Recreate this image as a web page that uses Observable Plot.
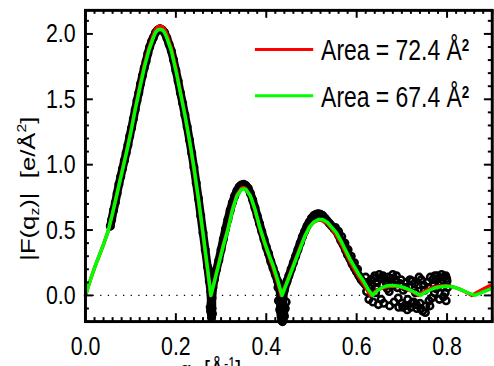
<!DOCTYPE html>
<html><head><meta charset="utf-8">
<script src="https://cdn.jsdelivr.net/npm/d3@7"></script>
<script src="https://cdn.jsdelivr.net/npm/@observablehq/plot@0.6"></script>
<style>
html,body{margin:0;padding:0;background:#fff;overflow:hidden;width:494px;height:366px;}
#chart{position:relative;width:494px;height:366px;overflow:hidden;}
</style></head><body><div id="chart"></div>
<script>
// ---- data ----
const xTicks = [0, 0.2, 0.4, 0.6, 0.8];
const yTicks = [0, 0.5, 1.0, 1.5, 2.0];
const legendLabels = ["Area = 72.4 Å", "Area = 67.4 Å"];
const legendColors = ["#ff0000", "#00ff00"];

// model |F(qz)| for Area = 67.4 (green)
const greenCurve = [
[0,0],[0.01,0.11],[0.02,0.21],[0.03,0.30],[0.04,0.39],[0.05,0.49],[0.06,0.63],[0.07,0.78],[0.08,0.93],[0.09,1.08],
[0.10,1.24],[0.11,1.42],[0.12,1.58],[0.13,1.74],[0.14,1.87],[0.15,1.97],[0.155,2.01],[0.16,2.03],[0.165,2.035],[0.17,2.03],
[0.175,2.01],[0.18,1.97],[0.19,1.87],[0.20,1.72],[0.21,1.55],[0.22,1.38],[0.23,1.19],[0.24,0.98],[0.25,0.74],[0.26,0.48],
[0.27,0.21],[0.2776,0],
[0.285,0.10],[0.295,0.24],[0.305,0.38],[0.315,0.50],[0.325,0.65],[0.335,0.76],[0.345,0.81],[0.35,0.815],[0.355,0.81],
[0.365,0.76],[0.375,0.66],[0.385,0.53],[0.395,0.42],[0.405,0.32],[0.415,0.23],[0.425,0.12],[0.435,0],
[0.445,0.09],[0.455,0.18],[0.465,0.27],[0.475,0.36],[0.485,0.45],[0.495,0.52],[0.505,0.56],[0.515,0.58],[0.52,0.58],
[0.525,0.58],[0.535,0.56],[0.545,0.52],[0.555,0.48],[0.565,0.42],[0.575,0.35],[0.585,0.28],[0.595,0.22],[0.605,0.16],
[0.615,0.11],[0.625,0.05],[0.635,0],
[0.645,0.035],[0.655,0.058],[0.665,0.072],[0.675,0.077],[0.685,0.075],[0.695,0.07],[0.705,0.06],[0.715,0.046],[0.725,0.03],
[0.735,0.012],[0.741,0],
[0.75,0.02],[0.76,0.038],[0.77,0.053],[0.78,0.063],[0.79,0.069],[0.80,0.07],[0.81,0.067],[0.82,0.058],[0.83,0.045],
[0.84,0.03],[0.85,0.015],[0.861,0],[0.87,0.013],[0.88,0.027],[0.89,0.041],[0.90,0.055]
];

// model |F(qz)| for Area = 72.4 (red)
const redCurve = [
[0,0],[0.01,0.11],[0.02,0.21],[0.03,0.30],[0.04,0.39],[0.05,0.49],[0.06,0.63],[0.07,0.78],[0.08,0.94],[0.09,1.09],
[0.10,1.25],[0.11,1.43],[0.12,1.60],[0.13,1.76],[0.14,1.89],[0.15,1.99],[0.155,2.035],[0.16,2.055],[0.165,2.06],[0.17,2.055],
[0.175,2.035],[0.18,1.995],[0.19,1.89],[0.20,1.74],[0.21,1.56],[0.22,1.38],[0.23,1.18],[0.24,0.96],[0.25,0.72],[0.26,0.46],
[0.27,0.19],[0.2770,0],
[0.285,0.11],[0.295,0.25],[0.305,0.39],[0.315,0.51],[0.325,0.66],[0.335,0.77],[0.345,0.82],[0.35,0.825],[0.355,0.815],
[0.365,0.76],[0.375,0.65],[0.385,0.52],[0.395,0.41],[0.405,0.31],[0.415,0.21],[0.425,0.10],[0.433,0],
[0.445,0.10],[0.455,0.19],[0.465,0.28],[0.475,0.37],[0.485,0.45],[0.495,0.52],[0.505,0.56],[0.515,0.575],[0.52,0.575],
[0.525,0.57],[0.535,0.55],[0.545,0.51],[0.555,0.46],[0.565,0.40],[0.575,0.33],[0.585,0.26],[0.595,0.20],[0.605,0.14],
[0.615,0.09],[0.625,0.03],[0.630,0],
[0.64,0.028],[0.65,0.048],[0.66,0.060],[0.67,0.068],[0.68,0.071],[0.69,0.069],[0.70,0.062],[0.71,0.05],[0.72,0.034],
[0.73,0.015],[0.736,0],
[0.745,0.02],[0.755,0.04],[0.765,0.056],[0.775,0.067],[0.785,0.073],[0.795,0.075],[0.805,0.072],[0.815,0.064],[0.825,0.052],
[0.835,0.037],[0.845,0.02],[0.855,0],[0.865,0.02],[0.875,0.04],[0.885,0.058],[0.895,0.075]
];

// measured data, continuous dense band (in measurement order)
const dataBand = [
[0.055,0.53],[0.058,0.58],[0.062,0.65],[0.066,0.71],[0.070,0.78],[0.074,0.85],[0.078,0.91],[0.082,0.97],[0.086,1.03],
[0.090,1.09],[0.094,1.15],[0.098,1.22],[0.102,1.28],[0.106,1.35],[0.110,1.42],[0.114,1.49],[0.118,1.55],[0.122,1.62],
[0.126,1.68],[0.130,1.74],[0.134,1.79],[0.138,1.85],[0.142,1.90],[0.146,1.94],[0.150,1.97],[0.155,2.01],[0.160,2.03],
[0.165,2.04],[0.170,2.03],[0.175,2.01],[0.180,1.97],[0.185,1.92],[0.190,1.87],[0.195,1.80],[0.200,1.72],[0.205,1.64],
[0.210,1.55],[0.215,1.47],[0.220,1.38],[0.225,1.29],[0.230,1.19],[0.235,1.09],[0.240,0.98],[0.245,0.86],[0.250,0.74],
[0.255,0.61],[0.260,0.48],[0.265,0.35],[0.270,0.22],[0.274,0.11],[0.277,0.03],[0.278,-0.06],[0.277,-0.12],[0.279,-0.17],
[0.280,-0.10],[0.280,-0.02],[0.282,0.06],[0.285,0.12],[0.290,0.20],[0.295,0.27],[0.300,0.35],[0.305,0.43],[0.310,0.51],
[0.315,0.58],[0.320,0.65],[0.325,0.71],[0.330,0.76],[0.335,0.80],[0.340,0.83],[0.345,0.845],[0.350,0.85],[0.355,0.84],
[0.360,0.82],[0.365,0.78],[0.370,0.73],[0.375,0.67],[0.380,0.61],[0.385,0.55],[0.390,0.49],[0.395,0.43],[0.400,0.37],
[0.405,0.32],[0.410,0.26],[0.415,0.21],[0.420,0.16],[0.425,0.11],[0.428,0.07],[0.431,0.02],[0.432,-0.05],[0.430,-0.11],
[0.433,-0.16],[0.436,-0.20],[0.440,-0.16],[0.438,-0.09],[0.437,-0.02],[0.440,0.04],[0.445,0.10],[0.450,0.15],[0.455,0.20],
[0.460,0.25],[0.465,0.30],[0.470,0.35],[0.475,0.40],[0.480,0.45],[0.485,0.49],[0.490,0.53],[0.495,0.56],[0.500,0.59],
[0.505,0.61],[0.510,0.62],[0.515,0.625],[0.520,0.62],[0.525,0.61],[0.530,0.59],[0.535,0.57],[0.540,0.55],[0.545,0.53],
[0.550,0.51],[0.555,0.49],[0.560,0.46],[0.565,0.42],[0.570,0.39],[0.575,0.35],[0.580,0.31],[0.585,0.28],[0.590,0.24],
[0.595,0.21],[0.600,0.18],[0.605,0.15],[0.610,0.12],[0.615,0.10],[0.620,0.08]
];

// measured data, isolated points
const dataScatter = [
[0.276,-0.09],[0.281,-0.14],[0.427,-0.04],[0.442,-0.10],[0.434,-0.19],[0.444,-0.05],[0.426,0.06],[0.446,0.11],
[0.553,0.52],[0.560,0.49],[0.567,0.45],[0.574,0.40],[0.581,0.35],[0.588,0.30],[0.595,0.25],[0.602,0.20],
[0.620,0.14],[0.625,0.10],[0.628,0.06],[0.632,0.12],[0.636,-0.05],[0.640,0.15],[0.642,0.02],[0.645,0.10],[0.648,-0.07],
[0.652,0.13],[0.655,0.08],[0.658,0.15],[0.660,-0.06],[0.664,0.11],[0.668,0.05],[0.670,0.14],[0.673,-0.08],[0.676,0.10],
[0.680,0.16],[0.683,-0.05],[0.686,0.12],[0.690,0.06],[0.693,-0.09],[0.696,0.09],[0.700,-0.06],[0.703,0.04],[0.706,-0.08],
[0.710,0.10],[0.713,-0.03],[0.716,0.07],[0.720,-0.09],[0.723,0.11],[0.726,-0.05],[0.730,0.02],[0.733,-0.10],[0.736,0.08],
[0.740,-0.06],[0.743,0.12],[0.746,-0.12],[0.750,0.04],[0.753,-0.08],[0.756,0.10],[0.760,-0.04],[0.763,0.14],[0.766,-0.02],
[0.770,0.09],[0.773,0.15],[0.776,0.05],[0.780,0.13],[0.783,-0.03],[0.786,0.10],[0.790,0.06],[0.793,0.14],[0.796,0.02],
[0.800,0.11],[0.798,-0.04],
[0.622,0.03],[0.627,-0.03],[0.634,0.08],[0.638,0.13],[0.644,0.06],[0.650,0.16],[0.654,-0.03],[0.662,0.13],[0.666,0.09],
[0.672,0.03],[0.678,0.13],[0.682,0.08],[0.688,0.15],[0.692,-0.02],[0.698,0.12],[0.702,-0.09],[0.708,0.06],[0.712,-0.11],
[0.718,0.12],[0.722,-0.06],[0.728,0.09],[0.732,-0.07],[0.738,0.14],[0.742,-0.10],[0.748,0.08],[0.752,-0.13],[0.758,0.06],
[0.762,-0.08],[0.768,0.12],[0.772,0.02],[0.778,0.15],[0.782,0.08],[0.788,0.16],[0.792,-0.01],[0.797,0.15],[0.801,0.06],
[0.799,0.13]
];

// ---- layout ----
const W = 500, H = 400, mL = 86, mR = 2.25, mT = 10, mB = 75;
const innerW = W - mL - mR, innerH = H - mT - mB;
const xMinor = d3.range(0, 46).map(i => +(i * 0.02).toFixed(2)).filter(v => !xTicks.includes(v));
const yMinor = d3.range(-2, 22).map(i => +(i / 10).toFixed(1)).filter(v => !yTicks.includes(v));
const fmt = d3.format(".1f");
const sans = "'Liberation Sans',Arial,sans-serif";
const SX = 0.8; // horizontal condensation of the original figure's lettering

const plot = Plot.plot({
  width: W, height: H,
  marginLeft: mL, marginRight: mR, marginTop: mT, marginBottom: mB,
  x: {domain: [0, 0.9]},
  y: {domain: [-0.2, 2.18]},
  style: {fontFamily: sans, fontSize: "27px", color: "black", background: "white", overflow: "visible"},
  marks: [
    Plot.ruleY([0], {stroke: "black", strokeWidth: 1.3, strokeDasharray: "1.3,6.4"}),
    Plot.line(dataBand, {x: d => d[0], y: d => d[1], stroke: "black", strokeWidth: 8.5, strokeLinejoin: "round", strokeLinecap: "round"}),
    Plot.dot(dataBand.concat(dataScatter), {x: d => d[0], y: d => d[1], r: 3.3, stroke: "black", strokeWidth: 2.6, fill: "none"}),
    Plot.line(redCurve, {x: d => d[0], y: d => d[1], stroke: legendColors[0], strokeWidth: 3.5}),
    Plot.line(greenCurve, {x: d => d[0], y: d => d[1], stroke: legendColors[1], strokeWidth: 3.5}),
    // inward ticks on all four sides
    Plot.tickX(xMinor, {x: d => d, insetTop: innerH - 4, strokeWidth: 2}),
    Plot.tickX(xTicks, {x: d => d, insetTop: innerH - 8, strokeWidth: 2}),
    Plot.tickX(xMinor, {x: d => d, insetBottom: innerH - 4, strokeWidth: 2}),
    Plot.tickX(xTicks, {x: d => d, insetBottom: innerH - 8, strokeWidth: 2}),
    Plot.tickY(yMinor, {y: d => d, insetRight: innerW - 4, strokeWidth: 2}),
    Plot.tickY(yTicks, {y: d => d, insetRight: innerW - 8, strokeWidth: 2}),
    Plot.tickY(yMinor, {y: d => d, insetLeft: innerW - 4, strokeWidth: 2}),
    Plot.tickY(yTicks, {y: d => d, insetLeft: innerW - 8, strokeWidth: 2}),
    Plot.frame({stroke: "black", strokeWidth: 3}),
    Plot.axisX({ticks: xTicks, tickSize: 0, tickPadding: 15, tickFormat: fmt, label: null}),
    Plot.axisY({ticks: yTicks, tickSize: 0, tickPadding: 10, tickFormat: fmt, label: null})
  ]
});
document.getElementById("chart").appendChild(plot);

const svg = d3.select(plot);
// condense the tick labels horizontally, like the original lettering
svg.selectAll('g[aria-label$="tick label"] text').each(function() {
  const t = this.getAttribute("transform") || "";
  this.setAttribute("transform", t + ` scale(${SX},1)`);
});

// legend (inside the frame, top right)
const legY = [50, 97];
legendLabels.forEach((t, i) => {
  svg.append("line").attr("x1", 258).attr("x2", 317).attr("y1", legY[i]).attr("y2", legY[i])
    .attr("stroke", legendColors[i]).attr("stroke-width", 3);
  const tx = svg.append("text").attr("transform", `translate(325,${legY[i] + 11}) scale(${SX},1)`)
    .attr("text-anchor", "start")
    .attr("font-family", sans).attr("font-size", 29).attr("fill", "black").text(t);
  tx.append("tspan").attr("dy", -9).attr("font-size", 17).attr("font-weight", "bold").text("2");
});

// y axis label
const yl = svg.append("text")
  .attr("transform", `translate(35,191) scale(${SX},1) rotate(-90)`)
  .attr("text-anchor", "middle").attr("font-family", sans)
  .attr("font-size", 26).attr("fill", "black");
yl.append("tspan").text("|F(q");
yl.append("tspan").attr("font-size", 16).attr("dy", 5).text("z");
yl.append("tspan").attr("dy", -5).text(")|\u00a0\u00a0[e/Å");
yl.append("tspan").attr("font-size", 16).attr("dy", -11).text("2");
yl.append("tspan").attr("dy", 11).text("]");

// x axis label (mostly below the visible window, as in the original crop)
const xl = svg.append("text").attr("transform", `translate(182,384) scale(${SX},1)`)
  .attr("text-anchor", "start")
  .attr("font-family", sans).attr("font-size", 27).attr("fill", "black");
xl.append("tspan").text("q");
xl.append("tspan").attr("font-size", 16).attr("dy", 5).text("z");
xl.append("tspan").attr("dy", -5).text(" [Å");
xl.append("tspan").attr("font-size", 16).attr("dy", -11).text("-1");
xl.append("tspan").attr("dy", 11).text("]");
</script>
</body></html>
